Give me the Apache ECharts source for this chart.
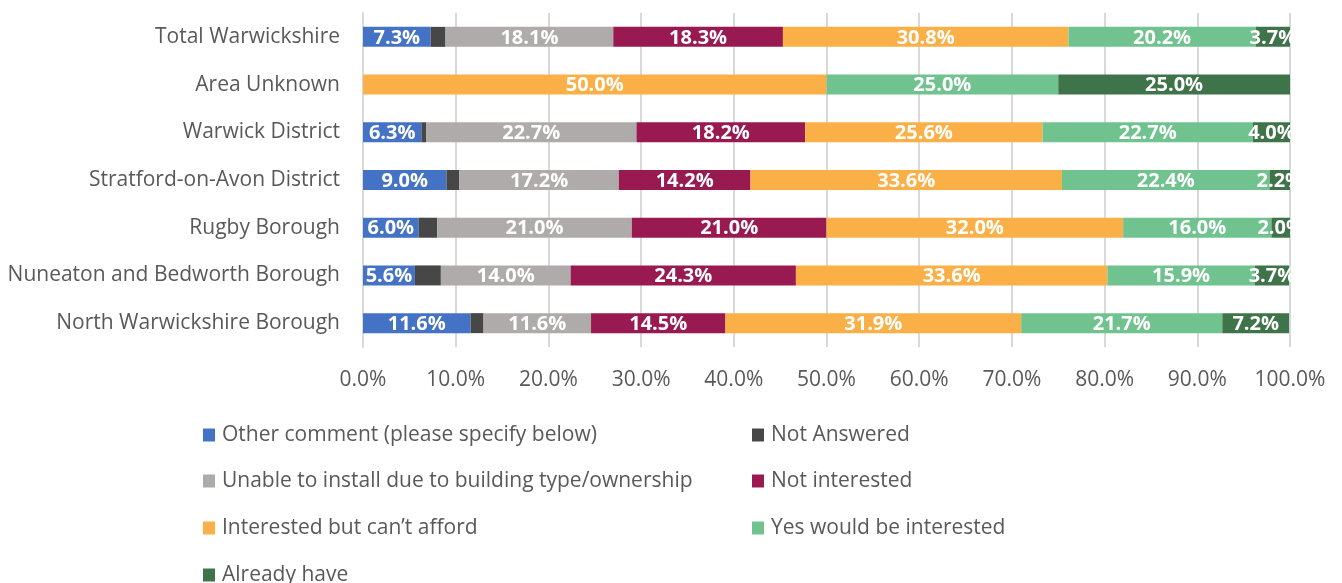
<!DOCTYPE html>
<html>
<head>
<meta charset="utf-8">
<script src="https://cdn.jsdelivr.net/npm/echarts@6/dist/echarts.min.js"></script>
<style>
  html, body { margin: 0; padding: 0; background: #fff; }
  #chart { width: 1342px; height: 583px; }
</style>
</head>
<body>
<div id="chart"></div>
<script>
// Areas, listed bottom to top as drawn on the category axis
const areas = [
  'North Warwickshire Borough',
  'Nuneaton and Bedworth Borough',
  'Rugby Borough',
  'Stratford-on-Avon District',
  'Warwick District',
  'Area Unknown',
  'Total Warwickshire'
];

// Share of responses (%) per answer, same order as areas
const otherComment   = [11.6, 5.6, 6.0, 9.0, 6.3, 0, 7.3];
const notAnswered    = [1.4, 2.8, 2.0, 1.4, 0.5, 0, 1.6];
const unableInstall  = [11.6, 14.0, 21.0, 17.2, 22.7, 0, 18.1];
const notInterested  = [14.5, 24.3, 21.0, 14.2, 18.2, 0, 18.3];
const cantAfford     = [31.9, 33.6, 32.0, 33.6, 25.6, 50.0, 30.8];
const yesInterested  = [21.7, 15.9, 16.0, 22.4, 22.7, 25.0, 20.2];
const alreadyHave    = [7.2, 3.7, 2.0, 2.2, 4.0, 25.0, 3.7];

const xTicks = [0, 10, 20, 30, 40, 50, 60, 70, 80, 90, 100];

const FONT = '"Open Sans"';
const TEXT_SIZE = 21;

const seriesDefs = [
  { name: 'Other comment (please specify below)', data: otherComment, color: '#4472C4', label: true },
  { name: 'Not Answered', data: notAnswered, color: '#474747', label: false },
  { name: 'Unable to install due to building type/ownership', data: unableInstall, color: '#AFABAB', label: true },
  { name: 'Not interested', data: notInterested, color: '#991A50', label: true },
  { name: 'Interested but can\u2019t afford', data: cantAfford, color: '#FBB047', label: true },
  { name: 'Yes would be interested', data: yesInterested, color: '#70C38E', label: true },
  { name: 'Already have', data: alreadyHave, color: '#3F744A', label: true }
];

const series = seriesDefs.map(s => ({
  name: s.name,
  type: 'bar',
  stack: 'total',
  barWidth: 20,
  data: s.data,
  itemStyle: { color: s.color },
  label: {
    show: s.label,
    position: 'inside',
    color: '#fff',
    fontFamily: FONT,
    fontWeight: 'bold',
    fontSize: 20,
    offset: [0, 1],
    formatter: p => (p.value > 0 ? p.value.toFixed(1) + '%' : '')
  }
}));

// Legend laid out in two columns: [series index, left, row centre y]
const legendSlots = [
  [0, 203, 432], [1, 752, 432],
  [2, 203, 478], [3, 752, 478],
  [4, 203, 525], [5, 752, 525],
  [6, 203, 572]
];

const legends = legendSlots.map(([idx, left, cy]) => ({
  data: [seriesDefs[idx].name],
  left: left,
  top: cy - 11,
  itemWidth: 12,
  itemHeight: 13,
  itemGap: 0,
  icon: 'rect',
  padding: 0,
  textStyle: { color: '#595959', fontFamily: FONT, fontSize: TEXT_SIZE, lineHeight: 26, padding: [2, 0, 0, 2] }
}));

const chart = echarts.init(document.getElementById('chart'), null, { renderer: 'canvas' });
chart.setOption({
  animation: false,
  grid: { left: 363, right: 52, top: 13, height: 334, containLabel: false },
  xAxis: {
    type: 'value',
    min: 0,
    max: 100,
    interval: 10,
    axisLine: { show: false },
    axisTick: { show: false },
    splitLine: { show: true, lineStyle: { color: '#D9D9D9', width: 2 } },
    axisLabel: {
      color: '#595959',
      fontFamily: FONT,
      fontSize: TEXT_SIZE,
      margin: 23,
      formatter: v => (xTicks.includes(v) ? v.toFixed(1) + '%' : '')
    }
  },
  yAxis: {
    type: 'category',
    data: areas,
    axisLine: { show: true, lineStyle: { color: '#D9D9D9', width: 2 } },
    axisTick: { show: false },
    axisLabel: { color: '#595959', fontFamily: FONT, fontSize: TEXT_SIZE, margin: 23, padding: [4, 0, 0, 0] }
  },
  legend: legends,
  series: series
});
</script>
</body>
</html>
